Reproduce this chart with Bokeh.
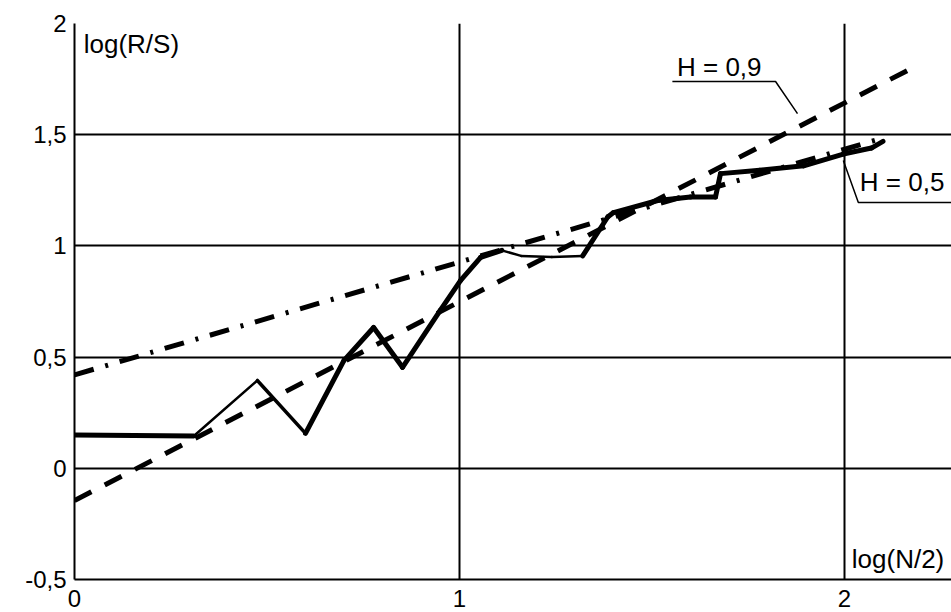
from bokeh.plotting import figure
from bokeh.models import FixedTicker, Range1d
from bokeh.core.properties import value
from bokeh.embed import file_html
from bokeh.resources import INLINE

# ---- data ----
# R/S curve (solid)
rs_x = [0.0, 0.31, 0.475, 0.60, 0.70, 0.777, 0.852, 0.95, 1.003, 1.055, 1.11,
        1.16, 1.24, 1.32, 1.385, 1.40, 1.515, 1.60, 1.665, 1.678, 1.78, 1.894,
        1.997, 2.07, 2.10]
rs_y = [0.15, 0.145, 0.395, 0.157, 0.485, 0.633, 0.454, 0.71, 0.845, 0.948, 0.98,
        0.955, 0.95, 0.955, 1.13, 1.15, 1.204, 1.22, 1.22, 1.325, 1.34, 1.36,
        1.413, 1.44, 1.47]
# regression line H = 0,9 (dashed)
h09_x = [0.0, 2.165]
h09_y = [-0.145, 1.79]
# reference line H = 0,5 (dash-dot)
h05_x = [0.0, 2.10]
h05_y = [0.42, 1.485]
# leader lines of the annotations
lead09_x = [1.553, 1.821, 1.878]
lead09_y = [1.739, 1.739, 1.595]
lead05_x = [1.997, 2.036, 2.30]
lead05_y = [1.384, 1.195, 1.195]
# texts
ann_text = ["log(R/S)", "log(N/2)", "H = 0,9", "H = 0,5"]
ann_x = [0.024, 2.019, 1.565, 2.040]
ann_y = [1.906, -0.408, 1.806, 1.287]
# ticks
x_ticks = [0, 1, 2]
y_ticks = [-0.5, 0, 0.5, 1, 1.5, 2]
y_tick_labels = ["-0,5", "0", "0,5", "1", "1,5", "2"]

# ---- styles ----
rs_widths = [5, 2.5, 3.5, 5, 5, 5, 5, 5, 5, 5, 2.5, 2.5, 2.5, 5, 5, 5, 5, 5, 5, 5,
             5, 5, 5, 5]
FONT = "Liberation Sans"

p = figure(width=951, height=612,
           x_range=Range1d(0, 2.278), y_range=Range1d(-0.5, 2),
           output_backend="svg", toolbar_location=None,
           min_border_left=74, min_border_right=0, min_border_top=23,
           min_border_bottom=33)
p.outline_line_color = None
p.background_fill_color = "white"
p.border_fill_color = "white"

p.xaxis.ticker = FixedTicker(ticks=x_ticks)
p.yaxis.ticker = FixedTicker(ticks=y_ticks)
p.yaxis.major_label_overrides = {float(t): s for t, s in zip(y_ticks, y_tick_labels)}
for ax in (p.xaxis, p.yaxis):
    ax.axis_line_color = "black"
    ax.axis_line_width = 2
    ax.major_tick_in = 0
    ax.major_tick_out = 0
    ax.minor_tick_line_color = None
    ax.major_label_text_font = FONT
    ax.major_label_text_font_size = "24px"
    ax.major_label_text_color = "black"
p.yaxis.major_label_standoff = 8
p.xaxis.major_label_standoff = 10

p.grid.grid_line_color = "black"
p.grid.grid_line_width = 2
p.grid.grid_line_alpha = 1.0

# lines
p.line(h09_x, h09_y, line_color="black", line_width=5, line_dash="19 15")
p.line(h05_x, h05_y, line_color="black", line_width=5, line_dash="20 12 3 12")
p.segment(x0=rs_x[:-1], y0=rs_y[:-1], x1=rs_x[1:], y1=rs_y[1:],
          line_color="black", line_width=rs_widths, line_cap="round")
p.line(lead09_x, lead09_y, line_color="black", line_width=1.5)
p.line(lead05_x, lead05_y, line_color="black", line_width=1.5)

p.text(x=ann_x, y=ann_y, text=ann_text, text_font=value(FONT),
       text_font_size="26px", text_color="black",
       text_align="left", text_baseline="alphabetic")

open("out.html", "w").write(file_html(p, INLINE))
